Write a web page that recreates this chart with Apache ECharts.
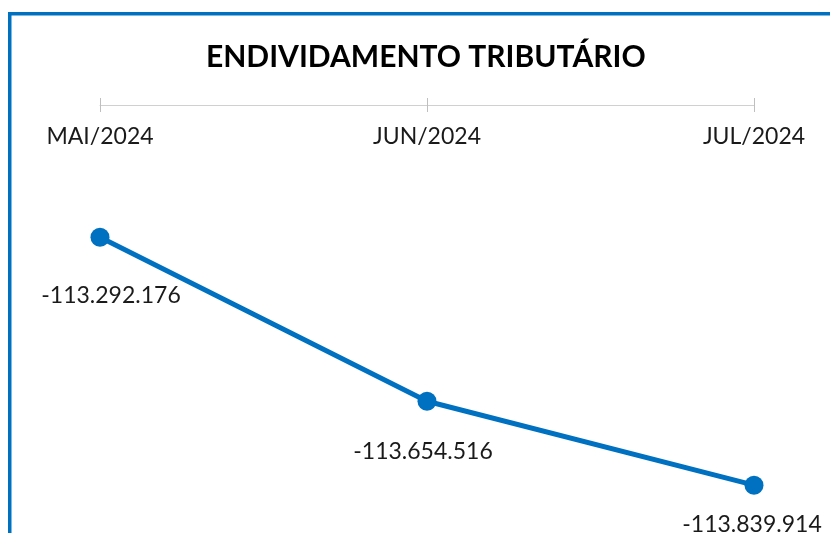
<!DOCTYPE html>
<html>
<head>
<meta charset="utf-8">
<script src="https://cdn.jsdelivr.net/npm/echarts@6/dist/echarts.min.js"></script>
<style>
html, body { margin: 0; padding: 0; background: #fff; }
#chart { width: 830px; height: 533px; }
</style>
</head>
<body>
<div id="chart"></div>
<script>
// Endividamento tributario
var months = ['MAI/2024', 'JUN/2024', 'JUL/2024'];
var debtValues = [-113292176, -113654516, -113839914];
var labelShift = [[11, 58], [-4, 50], [-2, 39]];

function fmtBR(v) {
	var s = Math.abs(v).toString().replace(/\B(?=(\d{3})+(?!\d))/g, '.');
	return (v < 0 ? '-' : '') + s;
}

var seriesData = new Array();
for (var i = 0; i < debtValues.length; i++) {
	seriesData[i] = {
		value : debtValues[i],
		label : { offset : labelShift[i] }
	};
}

var chart = echarts.init(document.getElementById('chart'));
var blue = '#0070C0';
var option = {
	animation : false,
	backgroundColor : '#fff',
	title : {
		text : 'ENDIVIDAMENTO TRIBUTÁRIO',
		left : 201,
		top : 37,
		textStyle : {
			fontFamily : 'Lato',
			fontWeight : 'bold',
			fontSize : 30,
			color : '#000'
		}
	},
	graphic : [ {
		type : 'rect',
		shape : { x : 8, y : 12, width : 822, height : 3.5 },
		style : { fill : blue }
	}, {
		type : 'rect',
		shape : { x : 8, y : 12, width : 3.5, height : 521 },
		style : { fill : blue }
	} ],
	grid : {
		left : 100,
		right : 76,
		top : 105,
		bottom : 20.6
	},
	xAxis : [ {
		type : 'category',
		position : 'top',
		boundaryGap : false,
		data : months,
		axisLine : { lineStyle : { color : '#D0D0D0', width : 1 } },
		axisTick : { length : 7, lineStyle : { color : '#BFBFBF' } },
		axisLabel : {
			inside : true,
			margin : 20,
			fontFamily : 'Lato',
			fontSize : 23,
			color : '#1a1a1a'
		}
	}, {
		type : 'category',
		position : 'top',
		boundaryGap : false,
		data : months,
		axisLine : { show : false },
		axisTick : { inside : true, length : 7, lineStyle : { color : '#BFBFBF' } },
		axisLabel : { show : false }
	} ],
	yAxis : {
		type : 'value',
		min : -113900000,
		max : -113000000,
		show : false,
		splitLine : { show : false }
	},
	series : [ {
		type : 'line',
		data : seriesData,
		symbol : 'circle',
		symbolSize : 19,
		lineStyle : { color : blue, width : 5 },
		itemStyle : { color : blue },
		label : {
			show : true,
			position : 'inside',
			fontFamily : 'Lato',
			fontSize : 23,
			color : '#1a1a1a',
			formatter : function(p) {
				return fmtBR(p.value);
			}
		}
	} ]
};
chart.setOption(option);
</script>
</body>
</html>
